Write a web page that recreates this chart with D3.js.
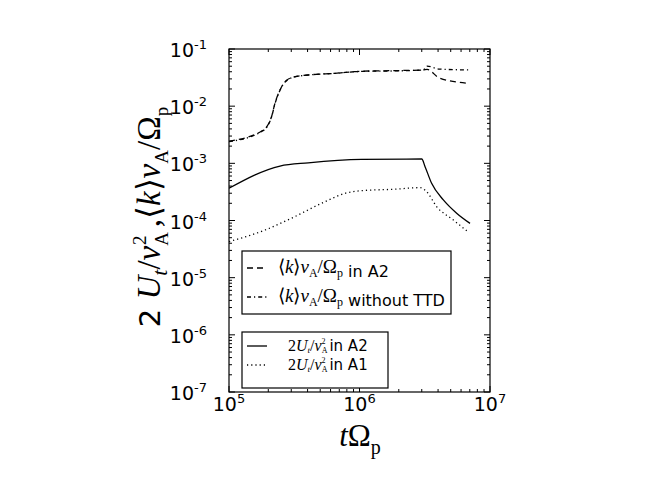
<!DOCTYPE html>
<html><head><meta charset="utf-8">
<script src="https://cdn.jsdelivr.net/npm/d3@7"></script>
<style>body{margin:0;background:#fff}svg{display:block}</style>
</head><body>
<svg id="c" width="654" height="491"></svg>
<script>
const tK = [1e5, 1.78e5, 1.95e5, 2.12e5, 2.25e5, 2.46e5, 2.69e5, 3.2e5, 4.3e5, 6.5e5, 1e6, 2e6, 3.08e6, 3.3e6, 4.1e6, 7e6];
const kA2 = [2.45e-3, 3.68e-3, 4.38e-3, 6.6e-3, 1.12e-2, 1.92e-2, 2.69e-2, 3.28e-2, 3.56e-2, 3.76e-2, 4.07e-2, 4.2e-2, 4.3e-2, 4.4e-2, 3.1e-2, 2.5e-2];
const kNoTTD = [2.4e-3, 3.6e-3, 4.3e-3, 6.5e-3, 1.1e-2, 1.9e-2, 2.65e-2, 3.25e-2, 3.55e-2, 3.75e-2, 4.05e-2, 4.15e-2, 4.3e-2, 5.0e-2, 4.45e-2, 4.3e-2];
const tUA2 = [1e5, 2.46e5, 4.05e5, 1.04e6, 3.0e6, 3.18e6, 3.57e6, 4.39e6, 5.55e6, 7.03e6];
const uA2 = [3.66e-4, 8.97e-4, 1.02e-3, 1.17e-3, 1.19e-3, 8.75e-4, 4.47e-4, 2.29e-4, 1.34e-4, 8.9e-5];
const tUA1 = [1e5, 1.89e5, 3.02e5, 5.45e5, 7.74e5, 1.04e6, 1.82e6, 2.91e6, 3.27e6, 3.9e6, 5.24e6, 6.76e6];
const uA1 = [4.27e-5, 6.82e-5, 1.1e-4, 2.14e-4, 2.99e-4, 3.33e-4, 3.52e-4, 3.75e-4, 3.19e-4, 1.75e-4, 1.02e-4, 6.37e-5];
const xTicks = [1e5, 1e6, 1e7];
const xTickExp = ["5", "6", "7"];
const yTicks = [1e-7, 1e-6, 1e-5, 1e-4, 1e-3, 1e-2, 1e-1];
const yTickExp = ["-7", "-6", "-5", "-4", "-3", "-2", "-1"];

const L = 229, R = 490, T = 49, B = 392;
const svg = d3.select("#c");
const x = d3.scaleLog().domain([1e5, 1e7]).range([L, R]);
const y = d3.scaleLog().domain([1e-7, 1e-1]).range([B, T]);

function minors(lo, hi) {
  const out = [];
  for (let e = Math.log10(lo); e < Math.log10(hi); e++)
    for (let m = 2; m <= 9; m++) out.push(m * Math.pow(10, e));
  return out;
}
const g = svg.append("g").attr("stroke", "#000").attr("stroke-width", 1);
const xm = minors(1e5, 1e7), ym = minors(1e-7, 1e-1);
xm.forEach(v => {
  g.append("line").attr("x1", x(v)).attr("x2", x(v)).attr("y1", B).attr("y2", B - 3);
  g.append("line").attr("x1", x(v)).attr("x2", x(v)).attr("y1", T).attr("y2", T + 3);
});
ym.forEach(v => {
  g.append("line").attr("y1", y(v)).attr("y2", y(v)).attr("x1", L).attr("x2", L + 3);
  g.append("line").attr("y1", y(v)).attr("y2", y(v)).attr("x1", R).attr("x2", R - 3);
});
xTicks.forEach(v => {
  g.append("line").attr("x1", x(v)).attr("x2", x(v)).attr("y1", B).attr("y2", B - 6);
  g.append("line").attr("x1", x(v)).attr("x2", x(v)).attr("y1", T).attr("y2", T + 6);
});
yTicks.forEach(v => {
  g.append("line").attr("y1", y(v)).attr("y2", y(v)).attr("x1", L).attr("x2", L + 6);
  g.append("line").attr("y1", y(v)).attr("y2", y(v)).attr("x1", R).attr("x2", R - 6);
});

const font = "DejaVu Sans";
xTicks.forEach((v, i) => {
  const t = svg.append("text").attr("x", x(v)).attr("y", 411).attr("text-anchor", "middle")
    .attr("font-family", font).attr("font-size", 19);
  t.append("tspan").text("10");
  t.append("tspan").attr("dy", -8).attr("font-size", 13).text(xTickExp[i]);
});
yTicks.forEach((v, i) => {
  const t = svg.append("text").attr("x", 207).attr("y", y(v) + 8).attr("text-anchor", "end")
    .attr("font-family", font).attr("font-size", 19);
  t.append("tspan").text("10");
  t.append("tspan").attr("dy", -8).attr("font-size", 13).text(yTickExp[i]);
});

svg.append("clipPath").attr("id", "clp").append("rect")
  .attr("x", L).attr("y", T).attr("width", R - L).attr("height", B - T);
const line = d3.line().x(d => x(d[0])).y(d => y(d[1])).curve(d3.curveMonotoneX);
const series = [
  {t: tK, v: kNoTTD, dash: "4,3,1.2,3"},
  {t: tK, v: kA2, dash: "6,4"},
  {t: tUA2, v: uA2, dash: null},
  {t: tUA1, v: uA1, dash: "1.2,3"}
];
series.forEach(s => {
  const p = svg.append("path").datum(s.t.map((tt, i) => [tt, s.v[i]]))
    .attr("d", line).attr("fill", "none").attr("stroke", "#000").attr("stroke-width", 1.3)
    .attr("clip-path", "url(#clp)");
  if (s.dash) p.attr("stroke-dasharray", s.dash);
});

svg.append("rect").attr("x", L).attr("y", T).attr("width", R - L).attr("height", B - T)
  .attr("fill", "none").attr("stroke", "#000").attr("stroke-width", 1.2);

const serif = "Liberation Serif";
function mathK(t) {
  t.append("tspan").text("⟨");
  t.append("tspan").attr("font-style", "italic").text("k");
  t.append("tspan").text("⟩");
  t.append("tspan").attr("font-style", "italic").text("v");
  t.append("tspan").attr("dy", 4).attr("font-size", 12).text("A");
  t.append("tspan").attr("dy", -4).text("/Ω");
  t.append("tspan").attr("dy", 4).attr("font-size", 12).text("p");
  t.append("tspan").attr("dy", -4).text("");
}
function mathU(t) {
  t.append("tspan").text("2");
  t.append("tspan").attr("font-style", "italic").text("U");
  t.append("tspan").attr("dy", 2).attr("font-size", 9).attr("font-style", "italic").text("t");
  t.append("tspan").attr("dy", -2).text("/");
  t.append("tspan").attr("font-style", "italic").text("v");
  t.append("tspan").attr("dy", 2).attr("font-size", 8).text("A");
  t.append("tspan").attr("dx", -6).attr("dy", -9.5).attr("font-size", 8).text("2");
  t.append("tspan").attr("dy", 7.5).text(" ");
}
const leg1 = [
  {dash: "6,4", name: "in A2"},
  {dash: "4,3,1.2,3", name: "without TTD"}
];
const leg2 = [
  {dash: null, name: " in A2"},
  {dash: "1.2,3", name: " in A1"}
];
svg.append("rect").attr("x", 242).attr("y", 251).attr("width", 209).attr("height", 63)
  .attr("fill", "#fff").attr("stroke", "#000").attr("stroke-width", 1.2);
leg1.forEach((d, i) => {
  const yy = 268 + i * 29;
  svg.append("line").attr("x1", 247).attr("x2", 267).attr("y1", yy).attr("y2", yy)
    .attr("stroke", "#000").attr("stroke-width", 1.3).attr("stroke-dasharray", d.dash);
  const t = svg.append("text").attr("x", 278).attr("y", yy + 5).attr("font-family", serif).attr("font-size", 19);
  mathK(t);
  t.append("tspan").attr("font-family", font).attr("font-size", 16).text(" " + d.name);
});
svg.append("rect").attr("x", 242).attr("y", 332).attr("width", 146).attr("height", 56)
  .attr("fill", "#fff").attr("stroke", "#000").attr("stroke-width", 1.2);
leg2.forEach((d, i) => {
  const yy = 346 + i * 19;
  const l = svg.append("line").attr("x1", 247).attr("x2", 267).attr("y1", yy).attr("y2", yy)
    .attr("stroke", "#000").attr("stroke-width", 1.3);
  if (d.dash) l.attr("stroke-dasharray", d.dash);
  const t = svg.append("text").attr("x", 288).attr("y", yy + 5).attr("font-family", serif).attr("font-size", 16);
  mathU(t);
  t.append("tspan").attr("font-family", font).attr("font-size", 15).text(d.name);
});

const xl = svg.append("text").attr("x", 360).attr("y", 446).attr("text-anchor", "middle")
  .attr("font-family", serif).attr("font-size", 31);
xl.append("tspan").attr("font-style", "italic").text("t");
xl.append("tspan").text("Ω");
xl.append("tspan").attr("dy", 8).attr("font-size", 20).text("p");

const yl = svg.append("text").attr("transform", "translate(160,217) rotate(-90)")
  .attr("text-anchor", "middle").attr("font-family", serif).attr("font-size", 33);
yl.append("tspan").attr("font-family", font).attr("font-size", 29).text("2 ");
yl.append("tspan").attr("font-style", "italic").text("U");
yl.append("tspan").attr("dy", 7).attr("font-size", 22).attr("font-style", "italic").text("t");
yl.append("tspan").attr("dy", -7).text("/");
yl.append("tspan").attr("font-style", "italic").text("v");
yl.append("tspan").attr("dy", 8).attr("font-size", 19).text("A");
yl.append("tspan").attr("dx", -13).attr("dy", -22).attr("font-size", 19).text("2");
yl.append("tspan").attr("dy", 14).text(" ,⟨");
yl.append("tspan").attr("font-style", "italic").text("k");
yl.append("tspan").text("⟩");
yl.append("tspan").attr("font-style", "italic").text("v");
yl.append("tspan").attr("dy", 8).attr("font-size", 19).text("A");
yl.append("tspan").attr("dy", -8).text("/Ω");
yl.append("tspan").attr("dy", 8).attr("font-size", 19).text("p");
</script>
</body></html>
